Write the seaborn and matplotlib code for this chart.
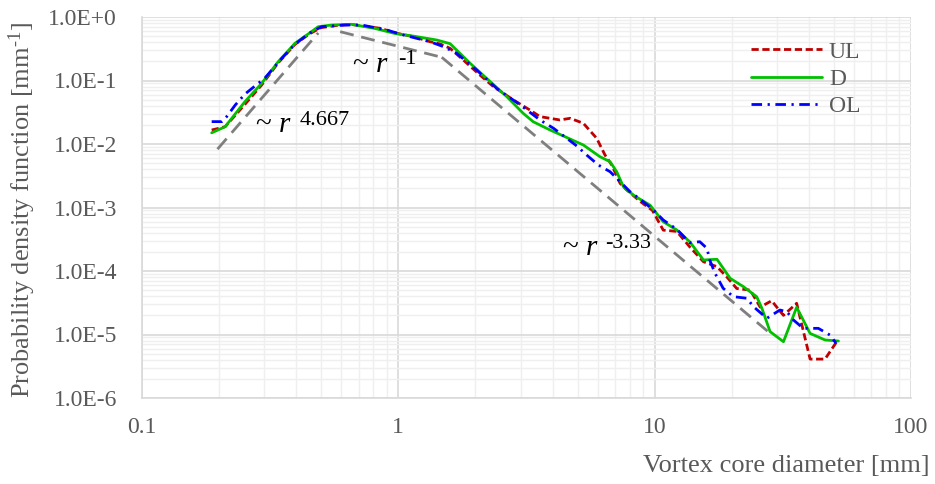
import numpy as np
import pandas as pd
import matplotlib
matplotlib.use("Agg")
import matplotlib.pyplot as plt
import matplotlib.ticker as mticker
import seaborn as sns

# ---------------- data ----------------
ul_x = [0.187, 0.211, 0.252, 0.293, 0.340, 0.395, 0.449, 0.50, 0.58, 0.66, 0.849, 0.986,
        1.145, 1.33, 1.455, 1.592, 1.793, 2.08, 2.35, 2.81, 3.26, 3.57, 4.27, 4.68, 5.27,
        5.94, 6.40, 6.80, 7.33, 7.78, 8.77, 9.8, 10.8, 12.2, 13.7, 15.5, 17.5, 19.1, 20.9,
        23.6, 25.8, 28.6, 31.8, 35.8, 40.4, 46.2, 51.3]
ul_y = [0.0166, 0.0187, 0.042, 0.085, 0.19, 0.37, 0.54, 0.68, 0.74, 0.76, 0.664, 0.554,
        0.490, 0.408, 0.376, 0.321, 0.210, 0.122, 0.080, 0.0494, 0.0343, 0.027, 0.0239,
        0.0254, 0.0212, 0.0123, 0.00671, 0.00467, 0.0024, 0.00189, 0.00125, 0.0009,
        0.00044, 0.00042, 0.00024, 0.00014, 0.000117, 8.1e-5, 5.3e-5, 5.0e-5, 2.7e-5,
        3.4e-5, 2.0e-5, 3.1e-5, 4.1e-6, 4.1e-6, 7.7e-6]

d_x = [0.187, 0.211, 0.252, 0.293, 0.340, 0.395, 0.449, 0.487, 0.550, 0.658, 0.811, 0.97,
       1.145, 1.413, 1.592, 1.905, 2.21, 2.65, 3.07, 3.36, 3.91, 4.40, 5.27, 6.12, 6.70,
       7.11, 7.55, 8.26, 8.77, 9.59, 10.8, 12.2, 13.7, 15.5, 17.5, 19.7, 22.2, 25.0, 26.2,
       28.2, 31.8, 35.8, 40.4, 46.2, 52.1]
d_y = [0.0150, 0.0187, 0.0464, 0.0903, 0.198, 0.385, 0.554, 0.703, 0.748, 0.767, 0.66,
       0.55, 0.50, 0.434, 0.38, 0.187, 0.108, 0.0556, 0.0304, 0.0224, 0.0166, 0.0134,
       0.00964, 0.0063, 0.00526, 0.00366, 0.00213, 0.00157, 0.00135, 0.00109, 0.000597,
       0.000442, 0.000289, 0.000149, 0.000153, 7.67e-5, 5.66e-5, 3.94e-5, 2.59e-5,
       1.11e-5, 7.7e-6, 2.68e-5, 1.04e-5, 8.2e-6, 7.9e-6]

ol_x = [0.187, 0.205, 0.214, 0.231, 0.252, 0.302, 0.351, 0.395, 0.449, 0.502, 0.620, 0.720,
        0.901, 1.047, 1.33, 1.5, 1.69, 2.02, 2.42, 2.99, 3.57, 4.03, 4.54, 4.97, 5.43, 6.03,
        6.70, 7.33, 8.02, 9.03, 9.89, 10.8, 12.2, 13.7, 15.0, 16.0, 16.4, 17.2, 18.5, 20.3,
        22.9, 24.3, 27.4, 30.8, 32.8, 34.8, 38.0, 43.5, 48.3, 51.0]
ol_y = [0.0225, 0.0225, 0.027, 0.041, 0.061, 0.110, 0.223, 0.371, 0.554, 0.703, 0.748,
        0.748, 0.624, 0.521, 0.408, 0.341, 0.268, 0.146, 0.075, 0.0412, 0.0239, 0.0177,
        0.0123, 0.0093, 0.0067, 0.00467, 0.00366, 0.00255, 0.00177, 0.00123, 0.000914,
        0.000636, 0.000454, 0.000279, 0.000289, 0.000227, 0.000149, 9.19e-5, 5.34e-5,
        3.94e-5, 3.72e-5, 2.74e-5, 1.8e-5, 2.43e-5, 2.29e-5, 1.69e-5, 1.25e-5, 1.25e-5,
        9.8e-6, 7.3e-6]

# power-law guide lines
ref1_x = [0.197, 0.487]
ref1_y = [8.3e-3, 0.56]
ref2_x = [0.593, 1.477]
ref2_y = [0.587, 0.232]
ref3_x = [1.477, 29.0]
ref3_y = [0.232, 9.5e-6]

series_names = ["UL", "D", "OL"]
x_ticks = [0.1, 1, 10, 100]
x_tick_labels = ["0.1", "1", "10", "100"]
y_exponents = [0, -1, -2, -3, -4, -5, -6]
y_tick_labels = ["1.0E+0", "1.0E-1", "1.0E-2", "1.0E-3", "1.0E-4", "1.0E-5", "1.0E-6"]
slope_labels = ["4.667", "-1", "-3.33"]

# ---------------- style ----------------
sns.set_style("white")
plt.rcParams["font.family"] = ["Liberation Serif", "DejaVu Serif"]
plt.rcParams["mathtext.fontset"] = "custom"
plt.rcParams["mathtext.rm"] = "Liberation Serif"
plt.rcParams["mathtext.it"] = "Liberation Serif:italic"

fig = plt.figure(figsize=(9.35, 4.84), dpi=100)
ax = fig.add_axes([142 / 935, 1 - 398 / 484, (911 - 142) / 935, (398 - 17) / 484])

ref_color = "#7f7f7f"
for rx, ry in [(ref1_x, ref1_y), (ref2_x, ref2_y), (ref3_x, ref3_y)]:
    sns.lineplot(x=rx, y=ry, ax=ax, color=ref_color, lw=2.0, sort=False)
    ax.lines[-1].set_dashes([5.0, 2.8])

sns.lineplot(x=ul_x, y=ul_y, ax=ax, color="#C00000", lw=2.0, label=series_names[0], sort=False)
ax.lines[-1].set_dashes([2.6, 1.3])
sns.lineplot(x=d_x, y=d_y, ax=ax, color="#00C000", lw=2.0, label=series_names[1], sort=False)
sns.lineplot(x=ol_x, y=ol_y, ax=ax, color="#0000FF", lw=2.0, label=series_names[2], sort=False)
ax.lines[-1].set_dashes([3.8, 2.0, 0.8, 2.0])

ax.set_xscale("log")
ax.set_yscale("log")
ax.set_xlim(0.1, 100)
ax.set_ylim(1e-6, 1.0)

ax.xaxis.set_major_locator(mticker.FixedLocator(x_ticks))
ax.xaxis.set_major_formatter(mticker.FixedFormatter(x_tick_labels))
ax.xaxis.set_minor_locator(mticker.LogLocator(base=10, subs=np.arange(2, 10)))
ax.xaxis.set_minor_formatter(mticker.NullFormatter())
ax.yaxis.set_major_locator(mticker.FixedLocator([10.0 ** e for e in y_exponents]))
ax.yaxis.set_major_formatter(mticker.FixedFormatter(y_tick_labels))
ax.yaxis.set_minor_locator(mticker.LogLocator(base=10, subs=np.arange(2, 10), numticks=20))
ax.yaxis.set_minor_formatter(mticker.NullFormatter())

ax.grid(True, which="major", color="#d9d9d9", lw=1.2)
ax.grid(True, which="minor", color="#efefef", lw=1.0)
ax.set_axisbelow(True)
for s in ax.spines.values():
    s.set_color("#d9d9d9")
    s.set_linewidth(1.2)
ax.spines["top"].set_visible(False)
ax.spines["right"].set_visible(False)

ax.tick_params(axis="both", which="both", length=0, labelsize=17, labelcolor="#595959")
ax.tick_params(axis="x", pad=14)
ax.tick_params(axis="y", pad=18)
ax.set_xlabel("")
ax.set_ylabel("")

fig.text(930 / 935, 1 - 466 / 484, "Vortex core diameter [mm]", ha="right", va="center",
         fontsize=19, color="#595959")
fig.text(22 / 935, 1 - 210 / 484, "Probability density function [mm$^{\\text{-1}}$]",
         rotation=90, ha="center", va="center", fontsize=19, color="#595959")

# annotations: "~ r" plus a separate superscript exponent
main_pos = [(0.276, 0.0156), (0.658, 0.138), (4.34, 1.79e-4)]
sup_pos = [(0.412, 0.0199), (0.995, 0.182), (6.38, 2.28e-4)]
for (mx, my), (sx, sy), lab in zip(main_pos, sup_pos, slope_labels):
    ax.text(mx, my, "~ $r$", fontsize=21, color="black", ha="left", va="baseline")
    ax.text(sx, sy, lab, fontsize=16, color="black", ha="left", va="baseline")

leg = ax.legend(loc="upper left", bbox_to_anchor=(751 / 935, 1 - 41 / 484),
                bbox_transform=fig.transFigure, frameon=False, fontsize=17,
                handlelength=3.0, handletextpad=0.3, labelspacing=0.25,
                borderpad=0, borderaxespad=0)
for t in leg.get_texts():
    t.set_color("#595959")

fig.savefig("out.png", dpi=100)
